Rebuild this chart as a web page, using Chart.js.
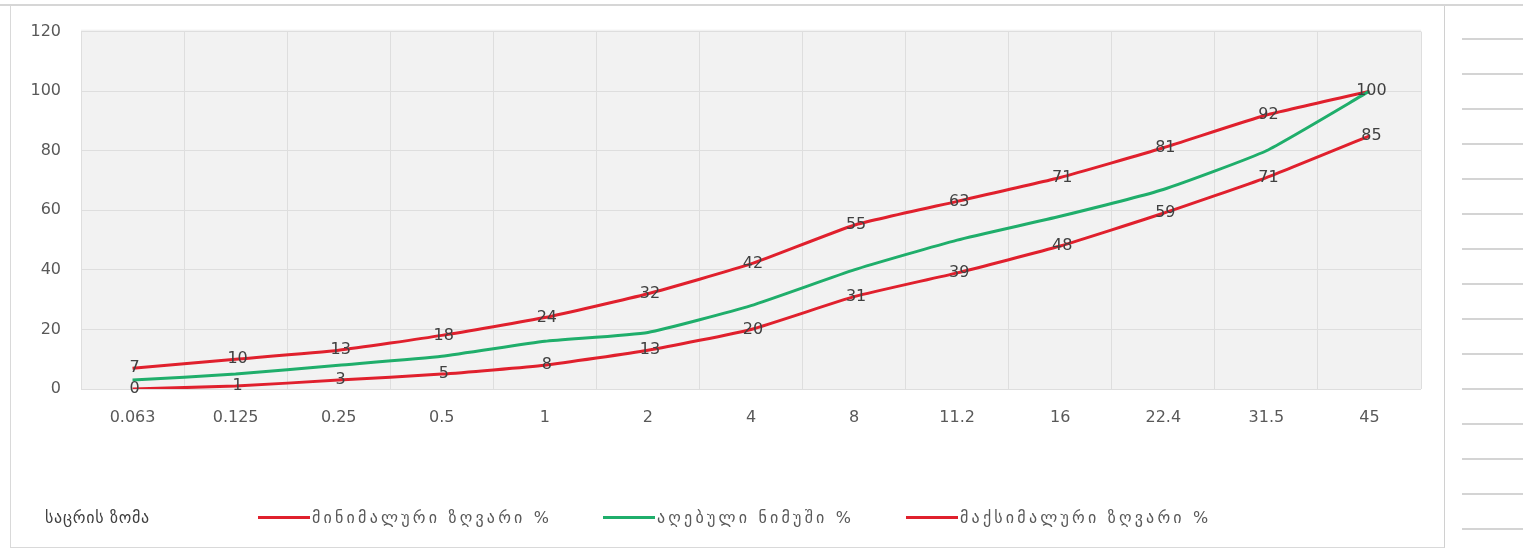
<!DOCTYPE html>
<html>
<head>
<meta charset="utf-8">
<script src="https://cdn.jsdelivr.net/npm/chart.js@4.4.1/dist/chart.umd.min.js"></script>
<style>
html,body{margin:0;padding:0;background:#fff;width:1523px;height:551px;overflow:hidden;position:relative;font-family:'DejaVu Sans',sans-serif}
#topline{position:absolute;left:0;top:4px;width:1523px;height:2px;background:#d6d6d6}
#frame{position:absolute;left:10px;top:6px;width:1435px;height:542px;border-left:1px solid #d9d9d9;border-right:1px solid #d0d0d0;border-bottom:1px solid #d9d9d9;box-sizing:border-box}
#cells{position:absolute;left:1462px;top:6px;width:61px;height:545px;background:repeating-linear-gradient(to bottom,transparent 0,transparent 32px,#d4d4d4 32px,#d4d4d4 34px,transparent 34px,transparent 35px)}
#wrap{position:absolute;left:11px;top:2px;width:1434px;height:546px}
#legend{position:absolute;left:0;top:505px;width:1445px;height:24px}
.lg{position:absolute;top:0;height:24px;display:flex;align-items:center;white-space:nowrap;font-size:16px;color:#595959;letter-spacing:3.2px}
.lg .sw{display:inline-block;width:52px;height:3px;margin-right:2px}
.lg0{left:45px;color:#404040;letter-spacing:0.7px}
.lg1{left:258px}
.lg2{left:603px}
.lg3{left:906px}
</style>
</head>
<body>
<div id="topline"></div>
<div id="frame"></div>
<div id="cells"></div>
<div id="wrap"><canvas id="c"></canvas></div>
<div id="legend"></div>
<script>
// ---- data ----
const sieveSizes = ['0.063','0.125','0.25','0.5','1','2','4','8','11.2','16','22.4','31.5','45'];
const minLimit = [0, 1, 3, 5, 8, 13, 20, 31, 39, 48, 59, 71, 85];
const sample = [3, 5, 8, 11, 16, 19, 28, 40, 50, 58, 67, 80, 100];
const maxLimit = [7, 10, 13, 18, 24, 32, 42, 55, 63, 71, 81, 92, 100];
const yTicks = [0, 20, 40, 60, 80, 100, 120];
const seriesNames = ['მინიმალური ზღვარი %', 'აღებული ნიმუში %', 'მაქსიმალური ზღვარი %'];
const axisTitle = 'საცრის ზომა';

const RED = '#e0202d', GREEN = '#1fae6b';
const TICK_FONT = {size: 16, family: '"DejaVu Sans", sans-serif'};

const plotBg = {
  id: 'plotBg',
  beforeDraw(chart) {
    const {ctx, chartArea: a} = chart;
    ctx.save();
    ctx.fillStyle = '#f2f2f2';
    ctx.fillRect(a.left, a.top - 2, a.right - a.left, a.bottom - a.top + 2);
    ctx.restore();
  }
};

const pointLabels = {
  id: 'pointLabels',
  afterDatasetsDraw(chart) {
    const ctx = chart.ctx;
    ctx.save();
    ctx.font = '16px "DejaVu Sans", sans-serif';
    ctx.fillStyle = '#404040';
    ctx.textAlign = 'center';
    ctx.textBaseline = 'middle';
    chart.data.datasets.forEach((ds, i) => {
      if (!ds.showValues) return;
      const meta = chart.getDatasetMeta(i);
      meta.data.forEach((pt, j) => {
        ctx.fillText(String(ds.data[j]), pt.x + 2, pt.y);
      });
    });
    ctx.restore();
  }
};

const chart = new Chart(document.getElementById('c'), {
  type: 'line',
  data: {
    labels: sieveSizes,
    datasets: [
      {label: seriesNames[0], data: minLimit, borderColor: RED, backgroundColor: RED, borderWidth: 3, pointRadius: 0, tension: 0.15, showValues: true},
      {label: seriesNames[1], data: sample, borderColor: GREEN, backgroundColor: GREEN, borderWidth: 3, pointRadius: 0, tension: 0.15, showValues: false},
      {label: seriesNames[2], data: maxLimit, borderColor: RED, backgroundColor: RED, borderWidth: 3, pointRadius: 0, tension: 0.15, showValues: true}
    ]
  },
  options: {
    responsive: true,
    maintainAspectRatio: false,
    animation: false,
    layout: {padding: {top: 20, right: 24, left: 0, bottom: 0}},
    plugins: {legend: {display: false}, tooltip: {enabled: false}},
    scales: {
      x: {
        offset: true,
        grid: {offset: true, color: '#dedede', drawTicks: false},
        border: {display: false},
        ticks: {padding: 19, color: '#595959', font: TICK_FONT, maxRotation: 0},
        afterFit(s) { s.height = 159; }
      },
      y: {
        min: 0, max: 120,
        afterBuildTicks(s) { s.ticks = yTicks.map(v => ({value: v})); },
        grid: {color: '#dedede', drawTicks: false},
        border: {display: false},
        ticks: {padding: 20, color: '#595959', font: TICK_FONT},
        afterFit(s) { s.width = 70; }
      }
    }
  },
  plugins: [plotBg, pointLabels]
});

// HTML legend built from the chart's datasets
const lg = document.getElementById('legend');
const t = document.createElement('div');
t.className = 'lg lg0';
t.textContent = axisTitle;
lg.appendChild(t);
chart.data.datasets.forEach((ds, i) => {
  const d = document.createElement('div');
  d.className = 'lg lg' + (i + 1);
  const sw = document.createElement('span');
  sw.className = 'sw';
  sw.style.background = ds.borderColor;
  const tx = document.createElement('span');
  tx.textContent = ds.label;
  d.appendChild(sw);
  d.appendChild(tx);
  lg.appendChild(d);
});
</script>
</body>
</html>
